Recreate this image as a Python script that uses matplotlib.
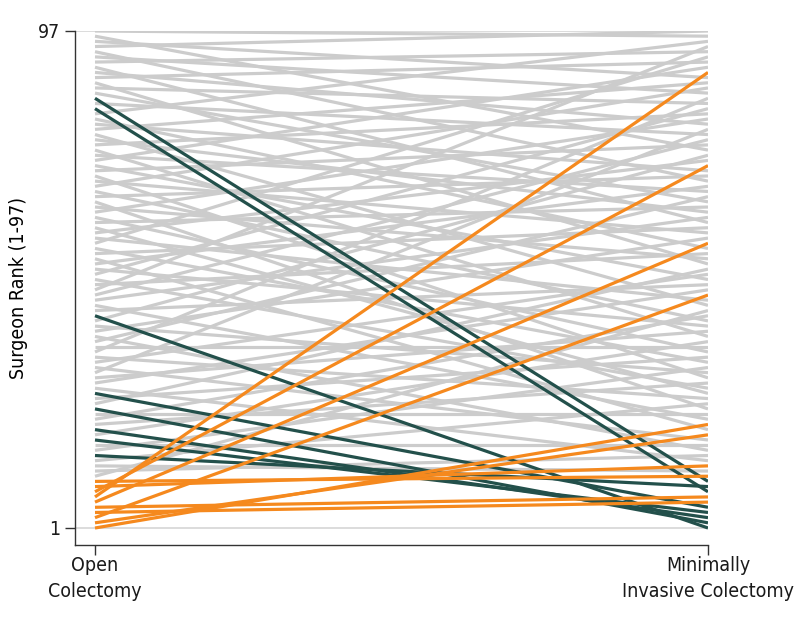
import matplotlib
matplotlib.use("Agg")
import matplotlib.pyplot as plt

# --- Data: (open rank, minimally invasive rank) ---
categories = ["Open\nColectomy", "Minimally\nInvasive Colectomy"]

teal_open = [84, 82, 42, 27, 24, 20, 18, 15]
teal_mis = [10, 8, 1, 5, 2, 3, 4, 9]

orange_open = [7, 8, 6, 3, 1, 2, 5, 4, 10, 9]
orange_mis = [89, 71, 56, 46, 21, 19, 7, 6, 11, 13]

gray_open = [97, 96, 95, 94, 93, 92, 91, 90, 89, 88, 87, 86, 85, 83,
             81, 80, 79, 78, 77, 76, 75, 74, 73, 72, 71, 70, 69, 68, 67, 66,
             65, 64, 63, 62, 61, 60, 59, 58, 57, 56, 55, 54, 53, 52, 51, 50,
             49, 48, 47, 46, 45, 44, 43, 41, 40, 39, 38, 37, 36, 35, 34, 33,
             32, 31, 30, 29, 28, 26, 25, 23, 22, 21, 19, 17, 16, 14, 13, 12, 11]
gray_mis = [96, 74, 88, 97, 68, 85, 93, 60, 79, 91, 52, 83, 64, 77,
            95, 55, 70, 87, 44, 62, 81, 38, 66, 90, 49, 75, 30, 58, 86, 41,
            69, 24, 53, 80, 35, 63, 27, 72, 45, 92, 33, 59, 20, 67, 40, 82,
            28, 54, 94, 76, 61, 22, 48, 73, 31, 57, 16, 65, 36, 84, 26, 50,
            18, 78, 39, 47, 14, 34, 51, 23, 42, 29, 37, 17, 32, 25, 12, 15, 43]

yticks = [1, 97]

plt.rcParams['font.family'] = ['DejaVu Sans']
plt.rcParams['font.stretch'] = 'condensed'

fig = plt.figure(figsize=(7.98, 6.30), dpi=100)
ax = fig.add_axes([75/798, 1-545/630, (708-75)/798, (545-31)/630])

GRAY = "#cccccc"
TEAL = "#23504b"
ORANGE = "#f5891e"

for y in yticks:
    ax.axhline(y, color="#d9d9d9", lw=1.3, zorder=0)

for a, b in zip(gray_open, gray_mis):
    ax.plot([0, 1], [a, b], color=GRAY, lw=2.3, solid_capstyle="butt", zorder=1)
for a, b in zip(teal_open, teal_mis):
    ax.plot([0, 1], [a, b], color=TEAL, lw=2.3, solid_capstyle="butt", zorder=2)
for a, b in zip(orange_open, orange_mis):
    ax.plot([0, 1], [a, b], color=ORANGE, lw=2.3, solid_capstyle="butt", zorder=3)

ax.set_xlim(-20/613, 1.0)
ax.set_ylim(1 - 17/5.177, 97)
ax.set_xticks([0, 1])
ax.set_xticklabels(categories, fontsize=14, linespacing=1.45)
ax.set_yticks(yticks)
ax.set_yticklabels([str(v) for v in yticks], fontsize=14)
ax.set_ylabel("Surgeon Rank (1-97)", fontsize=14, labelpad=7)

for s in ["top", "right"]:
    ax.spines[s].set_visible(False)
for s in ["left", "bottom"]:
    ax.spines[s].set_color("#333333")
    ax.spines[s].set_linewidth(1.0)
ax.tick_params(axis="both", direction="out", length=7, width=1.0, color="#333333", labelcolor="#1a1a1a")
ax.tick_params(axis="x", pad=1)

fig.savefig("out.png", dpi=100)
